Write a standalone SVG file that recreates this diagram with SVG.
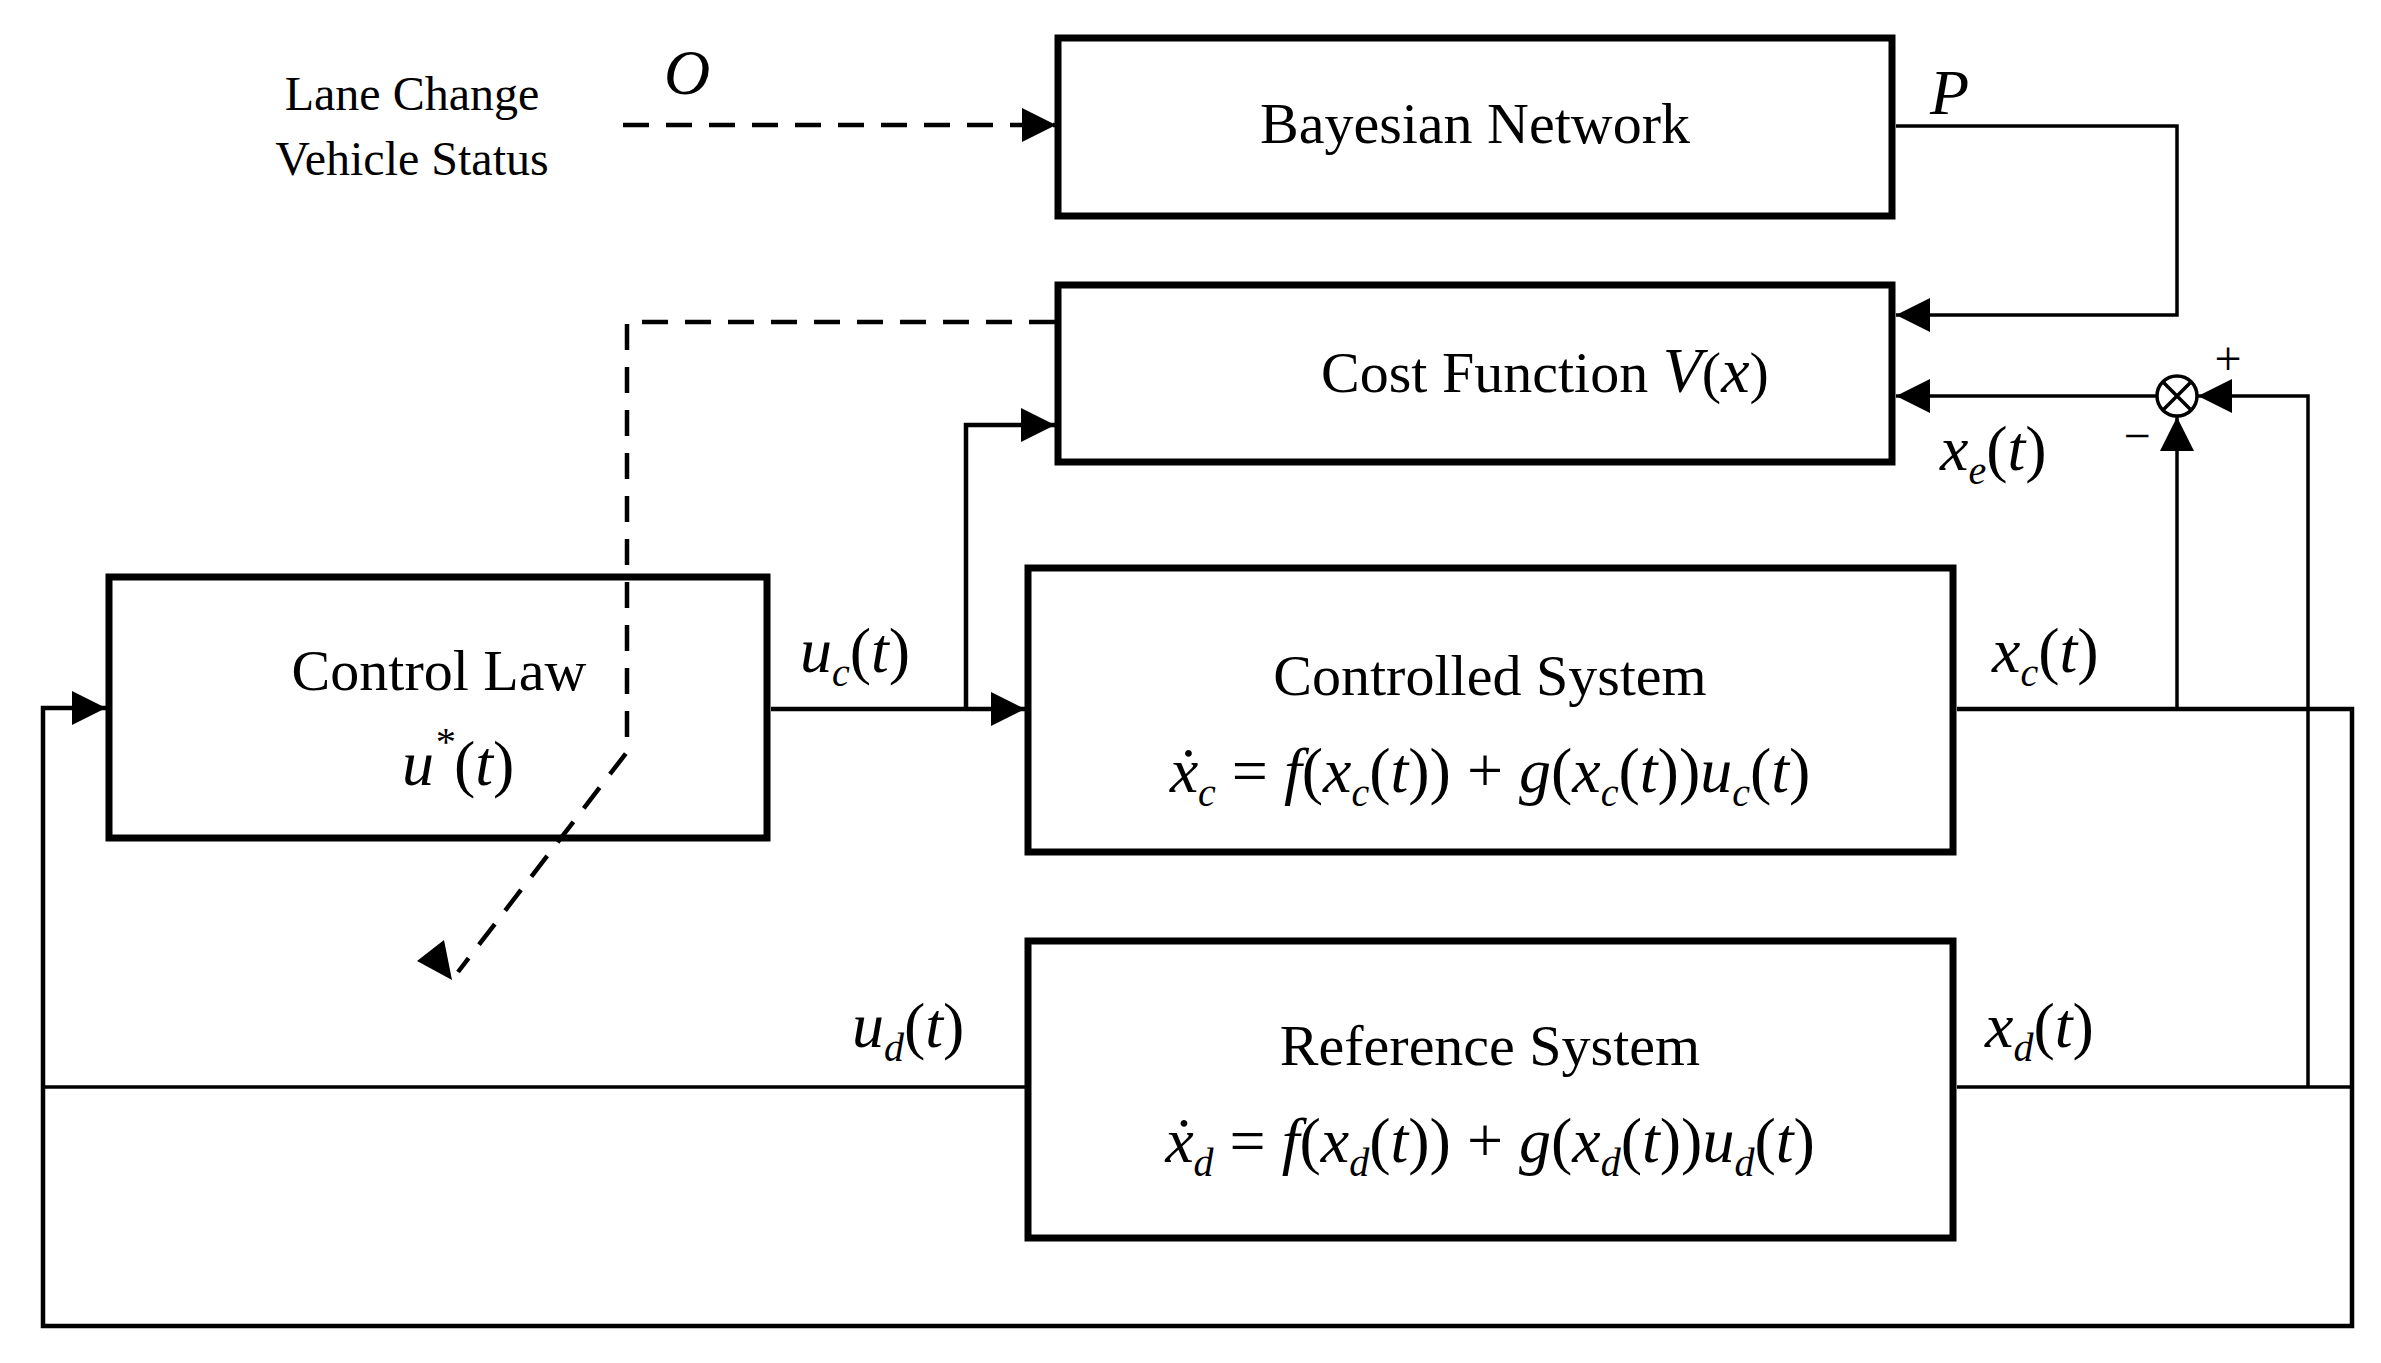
<svg xmlns="http://www.w3.org/2000/svg" width="2381" height="1363" viewBox="0 0 2381 1363">
<style>
.box{fill:#fff;stroke:#000;stroke-width:7}
.ln{fill:none;stroke:#000;stroke-width:3.5}
.th{fill:none;stroke:#000;stroke-width:4.5}
.ds{fill:none;stroke:#000;stroke-width:4.5;stroke-dasharray:26 17}
text{font-family:"Liberation Serif","Times New Roman",serif;fill:#000}
.t{font-size:58px;text-anchor:middle}
.s{font-size:48px;text-anchor:middle}
.m{font-size:64px;font-style:italic}
.sub{font-size:40px;font-style:italic}
.r{font-style:normal}
</style>
<defs>
<marker id="A" viewBox="0 0 10 10" refX="10" refY="5" markerWidth="34" markerHeight="34" orient="auto" markerUnits="userSpaceOnUse"><path d="M0,0L10,5L0,10z"/></marker>
</defs>
<g id="inputs">
<text x="412" y="110" class="s">Lane Change</text>
<text x="412" y="175" class="s">Vehicle Status</text>
<text x="664" y="94" class="m">O</text>
</g>
<g id="bayes">
<rect class="box" x="1058" y="38" width="834" height="178"/>
<text x="1475" y="143" class="t">Bayesian Network</text>
<text x="1930" y="114" class="m">P</text>
</g>
<g id="cost">
<rect class="box" x="1058" y="285" width="834" height="177"/>
<text x="1545" y="392" class="t">Cost Function <tspan class="m">V</tspan>(<tspan class="m">x</tspan>)</text>
<text x="1940" y="470" class="m">x<tspan class="sub" dy="14">e</tspan><tspan class="r" dy="-14">(</tspan>t<tspan class="r">)</tspan></text>
</g>
<g id="control">
<rect class="box" x="109" y="577" width="658" height="261"/>
<text x="439" y="690" class="t">Control Law</text>
<text x="402" y="785" class="m">u<tspan class="sub" dy="-30">*</tspan><tspan class="r" dy="30">(</tspan>t<tspan class="r">)</tspan></text>
<text x="800" y="672" class="m">u<tspan class="sub" dy="14">c</tspan><tspan class="r" dy="-14">(</tspan>t<tspan class="r">)</tspan></text>
</g>
<g id="controlled">
<rect class="box" x="1028" y="568" width="925" height="284"/>
<text x="1490" y="695" class="t">Controlled System</text>
<text x="1490" y="792" class="m" text-anchor="middle">ẋ<tspan class="sub" dy="14">c</tspan><tspan class="r" dy="-14"> = </tspan>f<tspan class="r">(</tspan>x<tspan class="sub" dy="14">c</tspan><tspan class="r" dy="-14">(</tspan>t<tspan class="r">)) + </tspan>g<tspan class="r">(</tspan>x<tspan class="sub" dy="14">c</tspan><tspan class="r" dy="-14">(</tspan>t<tspan class="r">))</tspan>u<tspan class="sub" dy="14">c</tspan><tspan class="r" dy="-14">(</tspan>t<tspan class="r">)</tspan></text>
<text x="1992" y="672" class="m">x<tspan class="sub" dy="14">c</tspan><tspan class="r" dy="-14">(</tspan>t<tspan class="r">)</tspan></text>
</g>
<g id="reference">
<rect class="box" x="1028" y="941" width="925" height="297"/>
<text x="1490" y="1065" class="t">Reference System</text>
<text x="1490" y="1162" class="m" text-anchor="middle">ẋ<tspan class="sub" dy="14">d</tspan><tspan class="r" dy="-14"> = </tspan>f<tspan class="r">(</tspan>x<tspan class="sub" dy="14">d</tspan><tspan class="r" dy="-14">(</tspan>t<tspan class="r">)) + </tspan>g<tspan class="r">(</tspan>x<tspan class="sub" dy="14">d</tspan><tspan class="r" dy="-14">(</tspan>t<tspan class="r">))</tspan>u<tspan class="sub" dy="14">d</tspan><tspan class="r" dy="-14">(</tspan>t<tspan class="r">)</tspan></text>
<text x="1985" y="1047" class="m">x<tspan class="sub" dy="14">d</tspan><tspan class="r" dy="-14">(</tspan>t<tspan class="r">)</tspan></text>
<text x="852" y="1047" class="m">u<tspan class="sub" dy="14">d</tspan><tspan class="r" dy="-14">(</tspan>t<tspan class="r">)</tspan></text>
</g>
<g id="connectors">
<path class="ds" d="M623,125H1056" marker-end="url(#A)"/>
<path class="ln" d="M1896,126H2177V315H1896" marker-end="url(#A)"/>
<path class="ln" d="M2157,396H1896" marker-end="url(#A)"/>
<path class="ln" d="M2308,1087V396H2198" marker-end="url(#A)"/>
<path class="ln" d="M2177,709V417" marker-end="url(#A)"/>
<path class="ds" d="M1055,322H627V752L458,972"/>
<path d="M452,980l-8-40l-27,21z"/>
<path class="th" d="M771,709H1025" marker-end="url(#A)"/>
<path class="th" d="M966,709V425H1055" marker-end="url(#A)"/>
<path class="th" d="M1957,709H2352V1326H43V708H106" marker-end="url(#A)"/>
<path class="ln" d="M43,1087H1025"/>
<path class="ln" d="M1957,1087H2352"/>
</g>
<g id="sum">
<circle cx="2177" cy="396" r="20" fill="#fff" stroke="#000" stroke-width="3.5"/>
<path class="ln" d="M2163,382L2191,410M2191,382L2163,410"/>
<text x="2228" y="375" class="s">+</text>
<text x="2137" y="452" class="s">−</text>
</g>
</svg>
